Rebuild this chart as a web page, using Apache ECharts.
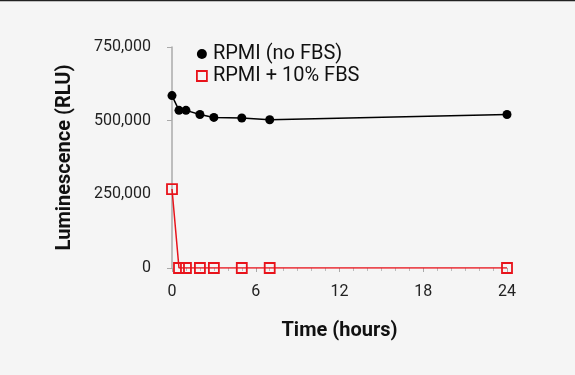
<!DOCTYPE html>
<html><head><meta charset="utf-8">
<script src="https://cdn.jsdelivr.net/npm/echarts@6/dist/echarts.min.js"></script>
<style>html,body{margin:0;padding:0;background:#f5f5f5}#c{width:575px;height:375px}</style>
</head><body><div id="c"></div>
<script>
const timeHours = [0, 0.5, 1, 2, 3, 5, 7, 24];
const rpmiNoFbs = [585000, 535000, 535000, 521000, 511000, 509000, 503000, 521000];
const rpmiFbs10 = [268000, 0, 0, 0, 0, 0, 0, 0];
const seriesNames = ['RPMI (no FBS)', 'RPMI + 10% FBS'];
const xTicks = [0, 6, 12, 18, 24];
const yTicks = [0, 250000, 500000, 750000];

const chart = echarts.init(document.getElementById('c'));
const font = 'Roboto';
const red = '#e8131b';
chart.setOption({
  backgroundColor: '#f5f5f5',
  animation: false,
  graphic: [{type:'line', shape:{x1:0,y1:0.5,x2:575,y2:0.5}, style:{stroke:'#222', lineWidth:1.5}}],
  grid: {left: 172, right: 68, top: 47, bottom: 107},
  legend: {
    orient: 'vertical', left: 191, top: 39, itemGap: 2, itemWidth: 10, itemHeight: 10,
    textStyle: {fontFamily: font, fontSize: 20, color: '#111', padding: [0,0,0,1]},
    data: [
      {name: seriesNames[0], icon: 'circle', itemStyle:{color:'#000'}},
      {name: seriesNames[1], icon: 'rect', itemStyle:{color:'transparent', borderColor: red, borderWidth: 1.8}}
    ]
  },
  xAxis: {
    type: 'value', min: 0, max: 24, interval: 6, offset: 3,
    name: 'Time (hours)', nameLocation: 'middle', nameGap: 50,
    nameTextStyle: {fontFamily: font, fontSize: 20, fontWeight: 'bold', color: '#111'},
    axisLine: {show: false},
    axisTick: {show: true, length: 4, lineStyle: {color: '#aaa'}},
    minorTick: {show: true, splitNumber: 6, length: 3, lineStyle: {color: '#bbb'}},
    splitLine: {show: false},
    axisLabel: {fontFamily: font, fontSize: 16, color: '#222', margin: 13,
      formatter: v => xTicks.includes(v) ? String(v) : ''}
  },
  yAxis: {
    type: 'value', min: 0, max: 750000, interval: 250000,
    name: 'Luminescence (RLU)', nameLocation: 'middle', nameGap: 97, nameRotate: 90,
    nameTextStyle: {fontFamily: font, fontSize: 20, fontWeight: 'bold', color: '#111'},
    axisLine: {show: true, lineStyle: {color: '#aaa', width: 1.5}},
    axisTick: {show: true, length: 5, lineStyle: {color: '#aaa'}},
    splitLine: {show: false},
    axisLabel: {fontFamily: font, fontSize: 16, color: '#222', margin: 21,
      formatter: v => yTicks.includes(v) ? v.toLocaleString('en-US') : ''}
  },
  series: [
    {name: seriesNames[0], type: 'line', data: timeHours.map((t,i)=>[t, rpmiNoFbs[i]]),
     symbol: 'circle', symbolSize: 9, itemStyle: {color: '#000'},
     lineStyle: {color: '#000', width: 1.5}, z: 3},
    {name: seriesNames[1], type: 'line', data: timeHours.map((t,i)=>[t, rpmiFbs10[i]]),
     symbol: 'rect', symbolSize: 10, itemStyle: {color: 'transparent', borderColor: red, borderWidth: 1.8},
     lineStyle: {color: red, width: 1.5}, z: 2}
  ]
});
</script></body></html>
